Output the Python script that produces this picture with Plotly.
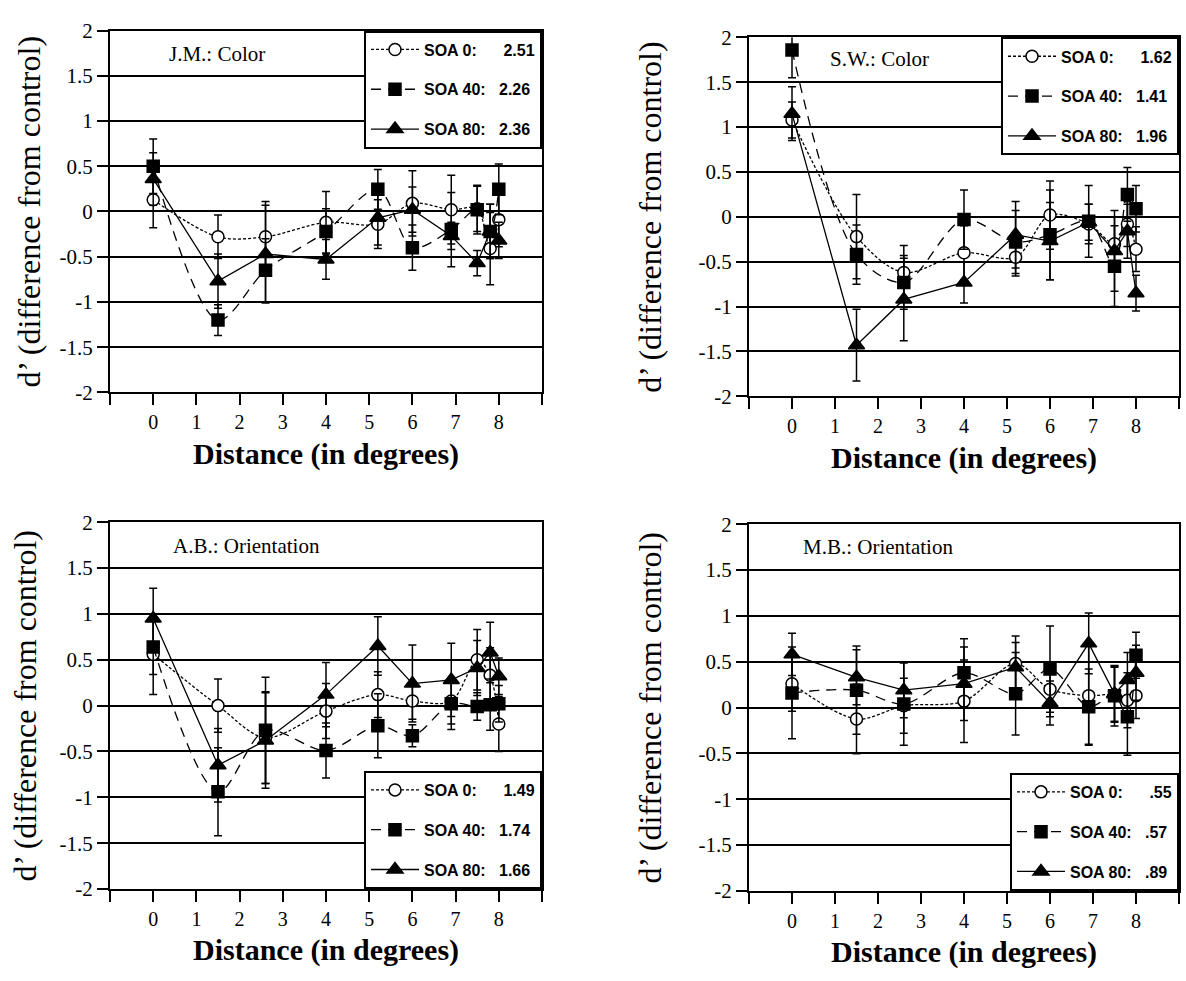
import plotly.graph_objects as go

W, H = 1186, 981

# ---------------- data ----------------
X = [0, 1.5, 2.6, 4.0, 5.2, 6.0, 6.9, 7.5, 7.8, 8.0]
X_TICKS = list(range(-1, 10))
X_LABELS = [""] + [str(i) for i in range(0, 9)] + [""]
Y_TICKS = [-2, -1.5, -1, -0.5, 0, 0.5, 1, 1.5, 2]
Y_LABELS = ["-2", "-1.5", "-1", "-0.5", "0", "0.5", "1", "1.5", "2"]
SERIES = ["SOA 0", "SOA 40", "SOA 80"]

# J.M.: Color
JM_SOA0 = [0.13, -0.28, -0.28, -0.12, -0.14, 0.09, 0.02, 0.03, -0.41, -0.09]
JM_SOA0_ERR = [0.31, 0.24, 0.39, 0.34, 0.27, 0.36, 0.38, 0.25, 0.40, 0.30]
JM_SOA40 = [0.50, -1.20, -0.65, -0.22, 0.245, -0.40, -0.20, 0.02, -0.22, 0.245]
JM_SOA40_ERR = [0.30, 0.17, 0.35, 0.25, 0.22, 0.25, 0.41, 0.27, 0.30, 0.28]
JM_SOA80 = [0.36, -0.77, -0.47, -0.53, -0.07, 0.02, -0.27, -0.57, -0.22, -0.32]
JM_SOA80_ERR = [0.29, 0.30, 0.54, 0.22, 0.30, 0.25, 0.15, 0.14, 0.30, 0.20]
JM_DPRIME = ["2.51", "2.26", "2.36"]

# S.W.: Color
SW_SOA0 = [1.08, -0.22, -0.62, -0.40, -0.45, 0.02, -0.08, -0.30, -0.08, -0.36]
SW_SOA0_ERR = [0.20, 0.47, 0.30, 0.30, 0.21, 0.38, 0.22, 0.30, 0.25, 0.25]
SW_SOA40 = [1.86, -0.42, -0.73, -0.03, -0.28, -0.20, -0.05, -0.55, 0.25, 0.09]
SW_SOA40_ERR = [0.31, 0.33, 0.30, 0.33, 0.35, 0.50, 0.40, 0.45, 0.30, 0.26]
SW_SOA80 = [1.15, -1.43, -0.92, -0.73, -0.20, -0.27, -0.06, -0.38, -0.16, -0.85]
SW_SOA80_ERR = [0.30, 0.40, 0.46, 0.23, 0.37, 0.43, 0.20, 0.45, 0.30, 0.20]
SW_DPRIME = ["1.62", "1.41", "1.96"]

# A.B.: Orientation
AB_SOA0 = [0.56, 0.00, -0.35, -0.06, 0.12, 0.05, 0.05, 0.50, 0.33, -0.20]
AB_SOA0_ERR = [0.44, 0.29, 0.50, 0.30, 0.25, 0.20, 0.25, 0.33, 0.30, 0.30]
AB_SOA40 = [0.64, -0.94, -0.27, -0.49, -0.22, -0.33, 0.02, -0.01, 0.01, 0.02]
AB_SOA40_ERR = [0.30, 0.48, 0.58, 0.30, 0.35, 0.12, 0.28, 0.15, 0.28, 0.20]
AB_SOA80 = [0.95, -0.65, -0.38, 0.12, 0.65, 0.24, 0.28, 0.41, 0.58, 0.32]
AB_SOA80_ERR = [0.33, 0.40, 0.52, 0.35, 0.32, 0.42, 0.40, 0.30, 0.33, 0.20]
AB_DPRIME = ["1.49", "1.74", "1.66"]

# M.B.: Orientation
MB_SOA0 = [0.26, -0.125, 0.02, 0.07, 0.48, 0.20, 0.13, 0.14, 0.08, 0.13]
MB_SOA0_ERR = [0.30, 0.38, 0.30, 0.45, 0.30, 0.30, 0.54, 0.30, 0.30, 0.25]
MB_SOA40 = [0.16, 0.19, 0.04, 0.38, 0.15, 0.42, 0.01, 0.13, -0.10, 0.57]
MB_SOA40_ERR = [0.50, 0.48, 0.45, 0.37, 0.45, 0.47, 0.41, 0.33, 0.42, 0.25]
MB_SOA80 = [0.58, 0.33, 0.19, 0.26, 0.44, 0.05, 0.70, 0.15, 0.30, 0.38]
MB_SOA80_ERR = [0.23, 0.30, 0.30, 0.40, 0.27, 0.24, 0.33, 0.30, 0.30, 0.30]
MB_DPRIME = [".55", ".57", ".89"]

PANELS = [
    ("J.M.: Color", [JM_SOA0, JM_SOA40, JM_SOA80], [JM_SOA0_ERR, JM_SOA40_ERR, JM_SOA80_ERR], JM_DPRIME),
    ("S.W.: Color", [SW_SOA0, SW_SOA40, SW_SOA80], [SW_SOA0_ERR, SW_SOA40_ERR, SW_SOA80_ERR], SW_DPRIME),
    ("A.B.: Orientation", [AB_SOA0, AB_SOA40, AB_SOA80], [AB_SOA0_ERR, AB_SOA40_ERR, AB_SOA80_ERR], AB_DPRIME),
    ("M.B.: Orientation", [MB_SOA0, MB_SOA40, MB_SOA80], [MB_SOA0_ERR, MB_SOA40_ERR, MB_SOA80_ERR], MB_DPRIME),
]

# ---------------- layout geometry (pixels) ----------------
# left, right, top, bottom of each plot area
BOXES = [(110, 542, 19, 390), (749, 1179, 26, 394), (110, 542, 523, 899), (749, 1179, 525, 901)]
TITLE_POS = [(0.32, 1.74), (0.84, 1.76), (0.41, 1.745), (0.21, 1.75)]
YTITLE_X = [29, 650, 25, 650]
LEGEND_TOP = [True, True, False, False]

SERIF = "Liberation Serif"
SANS = "Liberation Sans"

STYLES = [
    dict(symbol="circle", mcolor="white", size=12, dash="3px,2px", shape="spline"),
    dict(symbol="square", mcolor="black", size=12, dash="10px,7px", shape="spline"),
    dict(symbol="triangle-up", mcolor="black", size=14, dash="solid", shape="linear"),
]

fig = go.Figure()
layout = dict(
    width=W, height=H, margin=dict(l=0, r=0, t=0, b=0),
    paper_bgcolor="white", plot_bgcolor="white", showlegend=True,
    annotations=[],
)

for p, (title, ys, errs, dps) in enumerate(PANELS):
    n = p + 1
    sfx = "" if n == 1 else str(n)
    xa, ya = "x" + sfx, "y" + sfx
    leg = "legend" + sfx
    l, r, t, b = BOXES[p]
    pad = ["\u00a0" * 6, "\u00a0" * 3, "\u00a0" * 3]
    for s in range(3):
        st = STYLES[s]
        fig.add_trace(go.Scatter(
            x=X, y=ys[s], xaxis=xa, yaxis=ya,
            mode="lines+markers",
            name=f"{SERIES[s]}:{pad[s]}{dps[s]}",
            legend=leg, legendgroup=f"p{n}s{s}",
            line=dict(color="black", width=1.3, dash=st["dash"], shape=st["shape"], smoothing=0.9),
            marker=dict(symbol=st["symbol"], color=st["mcolor"], size=st["size"],
                        line=dict(color="black", width=1.5)),
            error_y=dict(type="data", array=errs[s], visible=True, color="black",
                         thickness=1.5, width=4),
        ))
    layout["xaxis" + sfx] = dict(
        domain=[l / W, r / W], anchor=ya, range=[-1, 9],
        tickmode="array", tickvals=X_TICKS, ticktext=X_LABELS,
        showline=True, linecolor="black", linewidth=2, mirror=True,
        ticks="outside", ticklen=11, tickwidth=2, tickcolor="black",
        showgrid=False, zeroline=False,
        tickfont=dict(family=SERIF, size=20, color="black"),
    )
    layout["yaxis" + sfx] = dict(
        domain=[1 - b / H, 1 - t / H], anchor=xa, range=[-2, 2],
        tickmode="array", tickvals=Y_TICKS, ticktext=Y_LABELS,
        showline=True, linecolor="black", linewidth=2, mirror=True,
        ticks="outside", ticklen=11, tickwidth=2, tickcolor="black",
        showgrid=True, gridcolor="black", gridwidth=2, zeroline=False,
        tickfont=dict(family=SERIF, size=21, color="black"),
    )
    if LEGEND_TOP[p]:
        lpos = dict(x=r / W, y=1 - t / H, xanchor="right", yanchor="top")
    else:
        lpos = dict(x=r / W, y=1 - b / H, xanchor="right", yanchor="bottom")
    layout[leg] = dict(
        **lpos, xref="paper", yref="paper",
        bgcolor="white", bordercolor="black", borderwidth=2,
        font=dict(family=SANS, size=16, color="black", weight="bold"),
        itemwidth=48, tracegroupgap=16, traceorder="grouped",
    )
    # panel label
    layout["annotations"].append(dict(
        text=title, x=TITLE_POS[p][0], y=TITLE_POS[p][1], xref=xa, yref=ya,
        xanchor="left", yanchor="middle", showarrow=False,
        font=dict(family=SERIF, size=21, color="black"),
    ))
    # y axis title
    layout["annotations"].append(dict(
        text="d\u2019 (difference from control)", x=YTITLE_X[p] / W, y=1 - ((t + b) / 2) / H,
        xref="paper", yref="paper", textangle=-90, showarrow=False,
        xanchor="center", yanchor="middle",
        font=dict(family=SERIF, size=32, color="black"),
    ))
    # x axis title
    layout["annotations"].append(dict(
        text="<b>Distance (in degrees)</b>", x=((l + r) / 2) / W, y=1 - (b + 63) / H,
        xref="paper", yref="paper", showarrow=False,
        xanchor="center", yanchor="middle",
        font=dict(family=SERIF, size=30, color="black"),
    ))

fig.update_layout(**layout)
fig.write_html("out.html", config={"displayModeBar": False},
               post_script="document.body.style.margin='0';document.body.style.overflow='hidden';")
